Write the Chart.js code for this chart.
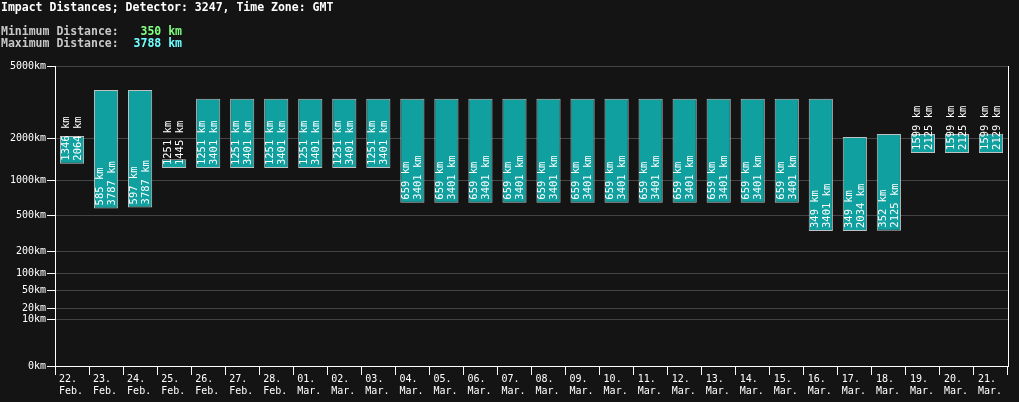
<!DOCTYPE html>
<html>
<head>
<meta charset="utf-8">
<script src="https://cdn.jsdelivr.net/npm/chart.js@4"></script>
<style>
  html, body { margin: 0; padding: 0; background: #141414; }
  #wrap { width: 1019px; height: 402px; }
</style>
</head>
<body>
<div id="wrap"><canvas id="impactChart"></canvas></div>
<script>
const days = [
    ['22.', 'Feb.'], ['23.', 'Feb.'], ['24.', 'Feb.'], ['25.', 'Feb.'], ['26.', 'Feb.'], ['27.', 'Feb.'], ['28.', 'Feb.'],
    ['01.', 'Mar.'], ['02.', 'Mar.'], ['03.', 'Mar.'], ['04.', 'Mar.'], ['05.', 'Mar.'], ['06.', 'Mar.'], ['07.', 'Mar.'],
    ['08.', 'Mar.'], ['09.', 'Mar.'], ['10.', 'Mar.'], ['11.', 'Mar.'], ['12.', 'Mar.'], ['13.', 'Mar.'], ['14.', 'Mar.'],
    ['15.', 'Mar.'], ['16.', 'Mar.'], ['17.', 'Mar.'], ['18.', 'Mar.'], ['19.', 'Mar.'], ['20.', 'Mar.'], ['21.', 'Mar.'],
];
const minKm = [1346, 585, 597, 1251, 1251, 1251, 1251, 1251, 1251, 1251, 659, 659, 659, 659,
    659, 659, 659, 659, 659, 659, 659, 659, 349, 349, 352, 1599, 1599, 1599];
const maxKm = [2064, 3787, 3787, 1445, 3401, 3401, 3401, 3401, 3401, 3401, 3401, 3401, 3401, 3401,
    3401, 3401, 3401, 3401, 3401, 3401, 3401, 3401, 3401, 2034, 2125, 2125, 2125, 2129];
const yTicksKm = [0, 10, 20, 50, 100, 200, 500, 1000, 2000, 5000];
const detector = '3247';
const timeZone = 'GMT';
const overallMin = 350;
const overallMax = 3788;

// the axis is a power scale (km^0.3)
const POW = 0.3;
const fwd = v => Math.pow(v, POW);
const inv = v => Math.round(Math.pow(v, 1 / POW));

const MONO = '"DejaVu Sans Mono", "Liberation Mono", monospace';

const headerPlugin = {
    id: 'header',
    afterDraw(chart) {
        const ctx = chart.ctx;
        const area = chart.chartArea;
        ctx.save();
        // right border line
        ctx.strokeStyle = '#ffffff';
        ctx.lineWidth = 1;
        ctx.beginPath();
        ctx.moveTo(area.right + 0.5, area.top);
        ctx.lineTo(area.right + 0.5, area.bottom);
        ctx.stroke();

        ctx.font = 'bold 11.5px ' + MONO;
        ctx.textBaseline = 'middle';
        ctx.textAlign = 'left';
        ctx.fillStyle = '#ffffff';
        ctx.fillText(`Impact Distances; Detector: ${detector}, Time Zone: ${timeZone}`, 1, 8);
        ctx.fillStyle = '#c8c8c8';
        ctx.fillText('Minimum Distance:', 1, 32);
        ctx.fillText('Maximum Distance:', 1, 44);
        ctx.textAlign = 'right';
        ctx.fillStyle = '#80ff80';
        ctx.fillText(overallMin + ' km', 182, 32);
        ctx.fillStyle = '#70ffff';
        ctx.fillText(overallMax + ' km', 182, 44);
        ctx.restore();
    },
};

const barLabelPlugin = {
    id: 'barLabels',
    afterDatasetsDraw(chart) {
        const ctx = chart.ctx;
        const meta = chart.getDatasetMeta(0);
        ctx.save();
        ctx.font = '10.5px ' + MONO;
        ctx.fillStyle = '#ffffff';
        ctx.textAlign = 'left';
        ctx.textBaseline = 'middle';
        meta.data.forEach((bar, i) => {
            const bottom = Math.max(bar.base, bar.y);
            [[bar.x - 6, minKm[i]], [bar.x + 6, maxKm[i]]].forEach(([x, v]) => {
                ctx.save();
                ctx.translate(x, bottom - 3);
                ctx.rotate(-Math.PI / 2);
                ctx.fillText(v + ' km', 0, 0);
                ctx.restore();
            });
        });
        ctx.restore();
    },
};

new Chart(document.getElementById('impactChart'), {
    type: 'bar',
    data: {
        labels: days,
        datasets: [{
            data: minKm.map((m, i) => [fwd(m), fwd(maxKm[i])]),
            backgroundColor: '#11a0a0',
            borderColor: '#c0c0c0',
            borderWidth: 1,
            borderSkipped: false,
            barPercentage: 0.71,
            categoryPercentage: 1,
        }],
    },
    options: {
        responsive: true, maintainAspectRatio: false,
        animation: false,
        layout: { padding: { top: 66, right: 11, left: 0, bottom: 0 } },
        plugins: { legend: { display: false }, tooltip: { enabled: false } },
        scales: {
            x: {
                afterFit: s => { s.height = 36; },
                border: { color: '#ffffff', width: 1 },
                grid: { offset: true, drawOnChartArea: false, tickLength: 9, tickColor: '#ffffff' },
                ticks: {
                    color: '#ffffff', font: { family: MONO, size: 10 },
                    align: 'start', labelOffset: -13, padding: -2, maxRotation: 0, autoSkip: false,
                },
            },
            y: {
                min: 0, max: fwd(5000),
                afterFit: s => { s.width = 55; },
                afterBuildTicks: s => { s.ticks = yTicksKm.map(v => ({ value: fwd(v) })); },
                border: { color: '#ffffff', width: 1 },
                grid: { color: '#444444', tickColor: '#ffffff', tickLength: 8 },
                ticks: {
                    color: '#ffffff', font: { family: MONO, size: 10 }, padding: 1,
                    callback: v => inv(v) + 'km',
                },
            },
        },
    },
    plugins: [headerPlugin, barLabelPlugin],
});
</script>
</body>
</html>
